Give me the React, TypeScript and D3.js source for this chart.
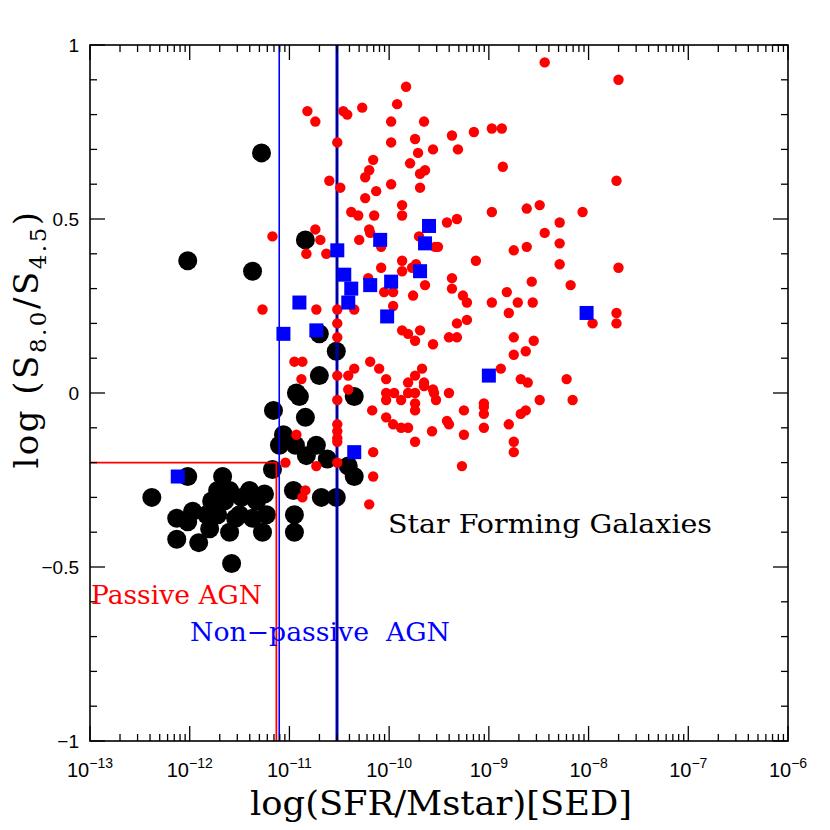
import React from 'react';
import * as d3 from 'd3';

// log10(SFR/Mstar), log(S8.0/S4.5)
const starForming: [number, number][] = [
  [-8.44, 0.95], [-7.70, 0.90], [-9.83, 0.88], [-10.82, 0.81], [-10.74, 0.78], [-10.46, 0.81],
  [-10.42, 0.80], [-10.27, 0.82], [-9.92, 0.83], [-9.98, 0.78], [-9.65, 0.78], [-9.37, 0.74],
  [-9.15, 0.75], [-8.97, 0.76], [-8.87, 0.76], [-10.52, 0.72], [-9.98, 0.72], [-9.74, 0.73],
  [-9.71, 0.69], [-9.56, 0.70], [-9.31, 0.70], [-10.16, 0.67], [-10.20, 0.64], [-9.79, 0.66],
  [-9.64, 0.64], [-9.69, 0.63], [-8.86, 0.65], [-10.60, 0.61], [-10.24, 0.62], [-10.49, 0.59],
  [-10.13, 0.58], [-9.98, 0.60], [-9.69, 0.59], [-10.24, 0.56], [-7.72, 0.61], [-9.87, 0.54],
  [-9.87, 0.51], [-10.38, 0.52], [-10.31, 0.51], [-10.15, 0.51], [-8.97, 0.52], [-8.62, 0.53],
  [-8.49, 0.54], [-8.06, 0.52], [-8.29, 0.49], [-9.42, 0.49], [-9.32, 0.50], [-8.44, 0.46],
  [-11.17, 0.45], [-10.74, 0.47], [-10.69, 0.44], [-10.20, 0.47], [-10.19, 0.46], [-10.30, 0.44],
  [-9.70, 0.45], [-10.08, 0.42], [-9.54, 0.42], [-9.51, 0.42], [-8.75, 0.41], [-8.62, 0.42],
  [-8.29, 0.43], [-10.83, 0.40], [-10.63, 0.40], [-9.87, 0.38], [-9.13, 0.38], [-8.29, 0.37],
  [-7.70, 0.36], [-10.08, 0.36], [-9.87, 0.35], [-9.73, 0.37], [-9.77, 0.36], [-9.37, 0.33],
  [-8.57, 0.32], [-9.64, 0.31], [-8.18, 0.31], [-10.21, 0.33], [-8.82, 0.29], [-10.05, 0.29],
  [-9.96, 0.29], [-9.76, 0.28], [-9.37, 0.30], [-9.26, 0.28], [-9.22, 0.26], [-8.97, 0.26],
  [-8.71, 0.26], [-8.56, 0.26], [-8.80, 0.23], [-9.96, 0.25], [-11.27, 0.24], [-10.73, 0.24],
  [-10.52, 0.24], [-10.35, 0.24], [-7.96, 0.20], [-7.72, 0.23], [-7.72, 0.20], [-9.32, 0.20],
  [-9.22, 0.21], [-9.87, 0.18], [-9.81, 0.17], [-9.69, 0.18], [-9.74, 0.15], [-9.56, 0.14],
  [-9.40, 0.16], [-9.32, 0.16], [-8.75, 0.16], [-8.55, 0.15], [-10.52, 0.20], [-10.52, 0.16],
  [-8.63, 0.12], [-8.75, 0.11], [-10.95, 0.09], [-10.87, 0.09], [-10.19, 0.09], [-10.10, 0.07],
  [-10.35, 0.07], [-9.67, 0.07], [-9.74, 0.05], [-8.88, 0.07], [-10.88, 0.04], [-10.52, 0.05],
  [-10.41, 0.05], [-10.03, 0.04], [-9.81, 0.03], [-9.65, 0.03], [-9.65, 0.02], [-9.56, 0.01],
  [-8.68, 0.04], [-8.61, 0.03], [-8.22, 0.04], [-10.41, 0.01], [-10.03, 0.00], [-9.95, 0.00],
  [-9.88, -0.02], [-9.81, 0.00], [-9.74, 0.00], [-10.03, -0.02], [-9.74, -0.03], [-9.74, -0.05],
  [-9.55, 0.00], [-9.53, -0.02], [-9.40, 0.00], [-9.25, -0.05], [-9.05, -0.03], [-9.05, -0.04],
  [-9.05, -0.06], [-8.49, -0.02], [-8.16, -0.02], [-8.68, -0.06], [-8.63, -0.05], [-10.52, -0.02],
  [-10.17, -0.05], [-10.03, -0.07], [-9.96, -0.09], [-9.88, -0.10], [-9.81, -0.10], [-9.57, -0.11],
  [-9.42, -0.08], [-9.40, -0.09], [-9.25, -0.12], [-9.05, -0.10], [-8.80, -0.09], [-8.75, -0.14],
  [-8.75, -0.17], [-10.52, -0.09], [-10.52, -0.11], [-10.93, -0.12], [-10.52, -0.13], [-10.52, -0.14],
  [-9.74, -0.14], [-10.16, -0.17], [-9.27, -0.21], [-10.16, -0.24], [-11.04, -0.20], [-10.73, -0.21],
  [-10.52, -0.20], [-10.84, -0.28], [-10.87, -0.30], [-10.20, -0.32],
];

const passiveAGN: [number, number][] = [
  [-11.28, 0.69], [-12.02, 0.38], [-11.37, 0.35], [-10.84, 0.44], [-10.70, 0.17], [-10.53, 0.12],
  [-10.70, 0.05], [-10.93, 0.00], [-10.90, -0.01], [-10.35, -0.01], [-11.16, -0.05], [-10.84, -0.07],
  [-11.06, -0.12], [-11.10, -0.15], [-10.94, -0.15], [-10.73, -0.15], [-10.83, -0.18], [-10.62, -0.19],
  [-10.41, -0.21], [-10.35, -0.24], [-11.17, -0.22], [-10.96, -0.28], [-10.68, -0.30], [-10.53, -0.30],
  [-12.38, -0.30], [-12.02, -0.24], [-11.67, -0.24], [-11.60, -0.28], [-11.70, -0.30], [-11.78, -0.31],
  [-11.40, -0.28], [-11.25, -0.29], [-11.33, -0.31], [-12.13, -0.36], [-11.97, -0.34], [-12.02, -0.37],
  [-11.83, -0.35], [-11.50, -0.35], [-11.37, -0.36], [-11.23, -0.35], [-11.80, -0.39], [-11.60, -0.40],
  [-12.13, -0.42], [-11.91, -0.43], [-11.27, -0.40], [-11.58, -0.49], [-10.95, -0.35], [-10.95, -0.40],
  [-11.72, -0.35], [-11.65, -0.31], [-11.48, -0.30], [-11.54, -0.36], [-11.72, -0.28],
];

const nonPassiveAGN: [number, number][] = [
  [-12.12, -0.24], [-11.06, 0.17], [-10.90, 0.26], [-10.73, 0.18], [-10.52, 0.41], [-10.45, 0.34],
  [-10.38, 0.30], [-10.41, 0.26], [-10.19, 0.31], [-10.09, 0.44], [-10.02, 0.22], [-9.98, 0.32],
  [-9.69, 0.35], [-9.64, 0.43], [-9.60, 0.48], [-10.35, -0.17], [-9.00, 0.05], [-8.02, 0.23],
];

const xDecades = [-13, -12, -11, -10, -9, -8, -7, -6];
const yTickValues = [-1, -0.5, 0, 0.5, 1];
const yTickLabels = ['\u22121', '\u22120.5', '0', '0.5', '1'];

const passiveSSFRCut = 7.4e-12;
const passiveColorCut = -0.2;
const nonPassiveCutLow = 7.9e-12;
const nonPassiveCutHigh = 3.0e-11;

const W = 830;
const H = 830;
const L = 90, R = 788, T = 45, B = 741;

export default function App() {
  const x = d3.scaleLog().domain([1e-13, 1e-6]).range([L, R]);
  const y = d3.scaleLinear().domain([-1, 1]).range([B, T]);

  const xTicks = x.ticks();
  const yMinor = d3.range(-10, 11).map((v) => v / 10);

  const isDecade = (v: number) => Math.abs(Math.log10(v) - Math.round(Math.log10(v))) < 1e-6;

  return (
    <svg width={W} height={H} style={{ position: 'absolute', left: 0, top: 0, background: '#fff' }}>
      <rect x={0} y={0} width={W} height={H} fill="#fff" />
      {/* passive AGN (black) */}
      {passiveAGN.map(([lx, v], i) => (
        <circle key={'b' + i} cx={x(Math.pow(10, lx))} cy={y(v)} r={9.5} fill="#000" />
      ))}
      {/* region lines */}
      <line x1={x(nonPassiveCutLow)} x2={x(nonPassiveCutLow)} y1={y(-1)} y2={y(1)} stroke="#0000ff" strokeWidth={1.6} />
      <line x1={x(nonPassiveCutHigh)} x2={x(nonPassiveCutHigh)} y1={y(-1)} y2={y(1)} stroke="#0000ff" strokeWidth={3} />
      <line x1={x(nonPassiveCutHigh)} x2={x(nonPassiveCutHigh)} y1={y(-1)} y2={y(1)} stroke="#000022" strokeWidth={1} />
      <polyline
        points={`${x(1e-13)},${y(passiveColorCut)} ${x(passiveSSFRCut)},${y(passiveColorCut)} ${x(passiveSSFRCut)},${y(-1)}`}
        fill="none" stroke="#ff0000" strokeWidth={1.8}
      />
      {/* star forming (red) */}
      {starForming.map(([lx, v], i) => (
        <circle key={'r' + i} cx={x(Math.pow(10, lx))} cy={y(v)} r={5.2} fill="#ff0000" />
      ))}
      {/* non-passive AGN (blue squares) */}
      {nonPassiveAGN.map(([lx, v], i) => (
        <rect key={'s' + i} x={x(Math.pow(10, lx)) - 7} y={y(v) - 7} width={14} height={14} fill="#0000ff" />
      ))}

      {/* frame */}
      <rect x={L} y={T} width={R - L} height={B - T} fill="none" stroke="#000" strokeWidth={1.6} />
      {/* x ticks */}
      {xTicks.map((t, i) => {
        const len = isDecade(t) ? 15 : 7;
        const px = x(t);
        return (
          <g key={'xt' + i}>
            <line x1={px} x2={px} y1={B} y2={B - len} stroke="#000" strokeWidth={1.3} />
            <line x1={px} x2={px} y1={T} y2={T + len} stroke="#000" strokeWidth={1.3} />
          </g>
        );
      })}
      {/* y ticks */}
      {yMinor.map((v, i) => {
        const major = Math.abs(v * 2 - Math.round(v * 2)) < 1e-6;
        const len = major ? 15 : 7;
        const py = y(v);
        return (
          <g key={'yt' + i}>
            <line x1={L} x2={L + len} y1={py} y2={py} stroke="#000" strokeWidth={1.3} />
            <line x1={R} x2={R - len} y1={py} y2={py} stroke="#000" strokeWidth={1.3} />
          </g>
        );
      })}
      {/* x tick labels */}
      {xDecades.map((d, i) => (
        <text key={'xl' + i} x={x(Math.pow(10, d))} y={777} textAnchor="middle"
          fontFamily="Liberation Sans, Arial, sans-serif" fontSize={20} fill="#000">
          10<tspan dy={-9} fontSize={14}>{'\u2212' + Math.abs(d)}</tspan>
        </text>
      ))}
      {/* y tick labels */}
      {yTickValues.map((v, i) => (
        <text key={'yl' + i} x={79} y={y(v)} dy="0.36em" textAnchor="end"
          fontFamily="Liberation Sans, Arial, sans-serif" fontSize={19} fill="#000">
          {yTickLabels[i]}
        </text>
      ))}
      {/* axis titles */}
      <text x={441} y={815} textAnchor="middle" fontFamily="DejaVu Serif, serif" fontSize={34}
        textLength={382} lengthAdjust="spacingAndGlyphs" fill="#000">
        log(SFR/Mstar)[SED]
      </text>
      <text transform="translate(38,339) rotate(-90)" textAnchor="middle" fontFamily="DejaVu Serif, serif"
        fontSize={34} letterSpacing={2.5} fill="#000">
        log (S<tspan dy={8} fontSize={23}>8.0</tspan><tspan dy={-8}>/S</tspan><tspan dy={8} fontSize={23}>4.5</tspan><tspan dy={-8}>)</tspan>
      </text>
      {/* annotations */}
      <text x={388} y={533} fontFamily="DejaVu Serif, serif" fontSize={26} fill="#000"
        textLength={324} lengthAdjust="spacingAndGlyphs">Star Forming Galaxies</text>
      <text x={91} y={604} fontFamily="DejaVu Serif, serif" fontSize={26} fill="#ff0000"
        textLength={171} lengthAdjust="spacingAndGlyphs">Passive AGN</text>
      <text x={190} y={641} fontFamily="DejaVu Serif, serif" fontSize={26} fill="#0000ff"
        textLength={260} lengthAdjust="spacingAndGlyphs" style={{ whiteSpace: 'pre' }}>{'Non\u2212passive  AGN'}</text>
    </svg>
  );
}
